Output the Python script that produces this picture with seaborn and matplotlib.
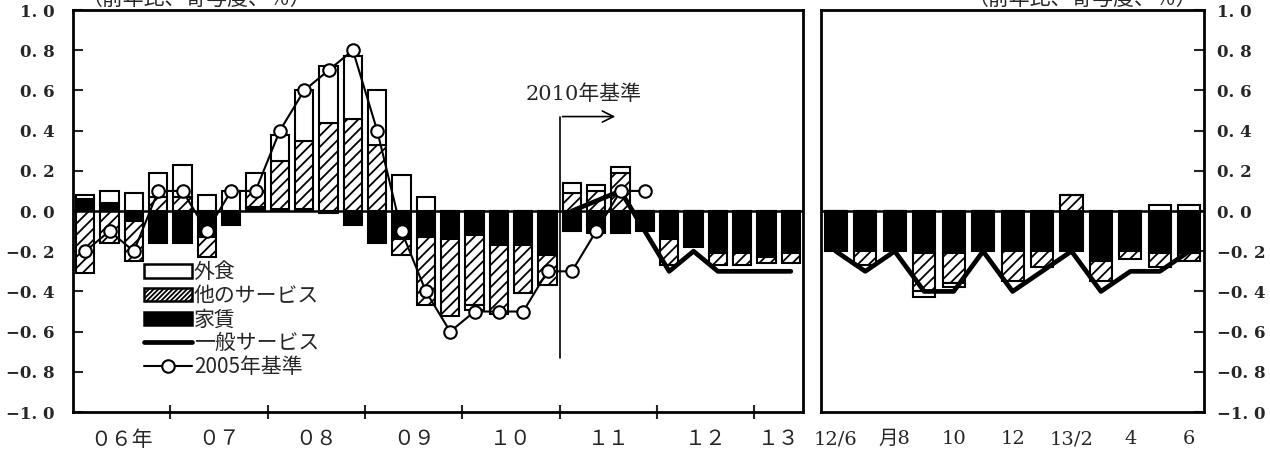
import numpy as np
import matplotlib
matplotlib.use("Agg")
import matplotlib.pyplot as plt
import seaborn as sns
from matplotlib.patches import Patch
from matplotlib.lines import Line2D

# 四半期 (2006Q1-2013Q2)
quarters = [f"{y:02d}Q{q}" for y in range(6, 14) for q in range(1, 5)][:30]
rent_q = [0.06, 0.04, -0.05, -0.16, -0.16, -0.13, -0.07, 0.02, 0.01, 0.01,
          -0.01, -0.07, -0.16, -0.14, -0.13, -0.14, -0.12, -0.17, -0.17, -0.22,
          -0.10, -0.11, -0.11, -0.10, -0.14, -0.18, -0.21, -0.21, -0.23, -0.21]
other_q = [-0.31, -0.16, -0.20, 0.07, 0.07, -0.10, 0.0, 0.08, 0.24, 0.34,
           0.44, 0.46, 0.33, -0.08, -0.34, -0.38, -0.35, -0.34, -0.24, -0.15,
           0.09, 0.10, 0.19, 0.0, -0.13, 0.0, -0.06, -0.06, -0.03, -0.05]
eatout_q = [0.02, 0.06, 0.09, 0.12, 0.16, 0.08, 0.10, 0.09, 0.13, 0.25,
            0.28, 0.31, 0.27, 0.18, 0.07, 0.0, -0.02, 0.0, 0.0, 0.0,
            0.05, 0.03, 0.03, 0.0, 0.0, 0.0, 0.0, 0.0, 0.0, 0.0]
base2005_q = [-0.2, -0.1, -0.2, 0.1, 0.1, -0.1, 0.1, 0.1, 0.4, 0.6, 0.7, 0.8,
              0.4, -0.1, -0.4, -0.6, -0.5, -0.5, -0.5, -0.3, -0.3, -0.1, 0.1, 0.1]
general_q_start = 20
general_q = [0.0, 0.05, 0.1, -0.1, -0.3, -0.2, -0.3, -0.3, -0.3, -0.3]
year_labels = ["０６年", "０７", "０８", "０９", "１０", "１１", "１２", "１３"]

# 月次 (2012/6-2013/6)
months = ["12/6", "12/7", "12/8", "12/9", "12/10", "12/11", "12/12",
          "13/1", "13/2", "13/3", "13/4", "13/5", "13/6"]
rent_m = [-0.2, -0.2, -0.2, -0.21, -0.21, -0.2, -0.2, -0.2, -0.2, -0.25, -0.2, -0.21, -0.21]
other_m = [0.0, -0.07, 0.0, -0.19, -0.15, 0.0, -0.15, -0.08, 0.08, -0.1, -0.04, -0.07, -0.04]
eatout_m = [0.0, 0.0, 0.0, -0.03, -0.02, 0.0, 0.0, 0.0, 0.0, 0.0, 0.0, 0.03, 0.03]
general_m = [-0.2, -0.3, -0.2, -0.4, -0.4, -0.2, -0.4, -0.3, -0.2, -0.4, -0.3, -0.3, -0.2]
month_ticks = ["12/6", "月8", "10", "12", "13/2", "4", "6"]

sns.set_style("ticks")
plt.rcParams["font.family"] = ["Noto Sans CJK JP", "DejaVu Sans"]
plt.rcParams["hatch.linewidth"] = 1.3
NUM_FONT = ["DejaVu Serif", "Noto Sans CJK JP"]

fig = plt.figure(figsize=(12.7, 4.5), dpi=100)
ax1 = fig.add_axes([0.0575, 0.0844, 0.5748, 0.8933])
ax2 = fig.add_axes([0.6465, 0.0844, 0.3016, 0.8933])

styles = [("black", None), ("white", "///"), ("white", None)]


def draw_stack(ax, labels, comps):
    pos = np.zeros(len(labels))
    neg = np.zeros(len(labels))
    for vals, (fc, hatch) in zip(comps, styles):
        vals = np.asarray(vals, dtype=float)
        base = np.where(vals >= 0, pos, neg)
        sns.barplot(x=labels, y=vals, order=labels, bottom=base, ax=ax,
                    width=0.75, errorbar=None, color=fc, saturation=1,
                    edgecolor="black", linewidth=1.5, hatch=hatch)
        pos += np.clip(vals, 0, None)
        neg += np.clip(vals, None, 0)


def fmt(v):
    s = f"{v:.1f}"
    if s == "-0.0":
        s = "0.0"
    return s.replace("-", "−").replace(".", ". ")


yt = np.round(np.arange(-1.0, 1.01, 0.2), 1)

# 左パネル
draw_stack(ax1, quarters, [rent_q, other_q, eatout_q])
ax1.axhline(0, color="black", lw=1.8, zorder=1)
sns.lineplot(x=np.arange(general_q_start, general_q_start + len(general_q)),
             y=general_q, ax=ax1, color="black", lw=3.4, zorder=5)
sns.lineplot(x=np.arange(len(base2005_q)), y=base2005_q, ax=ax1, color="black",
             lw=1.5, marker="o", markersize=9, markerfacecolor="white",
             markeredgecolor="black", markeredgewidth=1.5, zorder=6)
ax1.set_xlim(-0.5, len(quarters) - 0.5)
ax1.set_ylim(-1.0, 1.0)
ax1.set_yticks(yt)
ax1.set_yticklabels([fmt(v) for v in yt], family=NUM_FONT, fontsize=12,
                    fontweight="bold")
ax1.tick_params(axis="y", direction="in", length=7, width=1.5, pad=13)
ax1.set_xticks(np.arange(1.5, 30, 4)[:7].tolist() + [28.5])
ax1.set_xticklabels(year_labels, family=NUM_FONT, fontsize=15)
ax1.set_xticks(np.arange(3.5, 29, 4), minor=True)
ax1.tick_params(axis="x", which="major", length=0, pad=13)
ax1.tick_params(axis="x", which="minor", direction="inout", length=10, width=1.5)
ax1.set_xlabel("")

# 2010年基準 矢印
ax1.plot([19.5, 19.5], [-0.73, 0.47], color="black", lw=1.2, zorder=7)
ax1.annotate("", xy=(21.9, 0.47), xytext=(19.5, 0.47),
             arrowprops=dict(arrowstyle="->", color="black", lw=1.2,
                             mutation_scale=20), zorder=7)
ax1.text(20.5, 0.58, "2010年基準", ha="center", va="center", fontsize=15,
         family=NUM_FONT)

handles = [Patch(facecolor="white", edgecolor="black", lw=1.8),
           Patch(facecolor="white", edgecolor="black", hatch="///////", lw=1.8),
           Patch(facecolor="black", edgecolor="black", lw=1.8),
           Line2D([], [], color="black", lw=3.4),
           Line2D([], [], color="black", lw=1.5, marker="o", markersize=9,
                  markerfacecolor="white", markeredgewidth=1.5)]
names = ["外食", "他のサービス", "家賃", "一般サービス", "2005年基準"]
ax1.legend(handles, names, loc="upper left", bbox_to_anchor=(0.097, 0.375),
           frameon=False, fontsize=15, handlelength=2.3, handleheight=0.6,
           handletextpad=0.1, labelspacing=0.08, borderpad=0, borderaxespad=0)

# 右パネル
draw_stack(ax2, months, [rent_m, other_m, eatout_m])
ax2.axhline(0, color="black", lw=1.8, zorder=1)
sns.lineplot(x=np.arange(len(general_m)), y=general_m, ax=ax2, color="black",
             lw=3.4, zorder=5)
ax2.set_xlim(-0.5, len(months) - 0.5)
ax2.set_ylim(-1.0, 1.0)
ax2.yaxis.tick_right()
ax2.set_yticks(yt)
ax2.set_yticklabels([fmt(v) for v in yt], family=NUM_FONT, fontsize=12,
                    fontweight="bold")
ax2.tick_params(axis="y", direction="in", length=7, width=1.5, pad=9)
ax2.set_xticks(np.arange(0, 13, 2))
ax2.set_xticklabels(month_ticks, family=NUM_FONT, fontsize=14)
ax2.tick_params(axis="x", length=0, pad=13)
ax2.set_xlabel("")

for ax in (ax1, ax2):
    for sp in ax.spines.values():
        sp.set_visible(True)
        sp.set_linewidth(2)
        sp.set_color("black")

fig.text(0.064, 1.003, "（前年比、寄与度、％）", ha="left", va="center", fontsize=15)
fig.text(0.943, 1.003, "（前年比、寄与度、％）", ha="right", va="center", fontsize=15)

fig.savefig("out.png", dpi=100)
